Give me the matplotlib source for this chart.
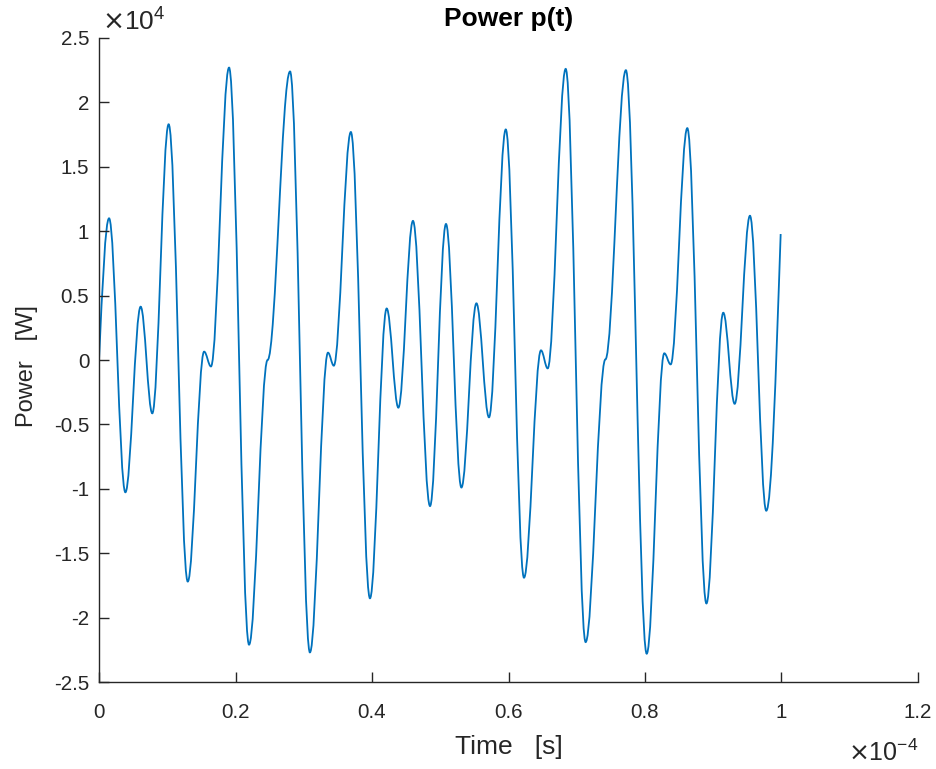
import numpy as np
import matplotlib
matplotlib.use('Agg')
import matplotlib.pyplot as plt
from matplotlib.path import Path
from matplotlib.patches import PathPatch
from matplotlib.ticker import FuncFormatter

plt.rcParams['font.family'] = ['Liberation Sans', 'DejaVu Sans']
plt.rcParams['axes.unicode_minus'] = False

# extrema / shoulder points
# time in units of 1e-4 s, power in units of 1e4 W
t_pts = [0.000, 0.0147, 0.0386, 0.061, 0.078, 0.102, 0.130, 0.154, 0.164, 0.1905,
         0.2198, 0.247, 0.2799, 0.309, 0.3355, 0.344, 0.369, 0.397, 0.4215, 0.4386,
         0.460, 0.485, 0.5084, 0.531, 0.553, 0.5714, 0.596, 0.6227, 0.6476, 0.6574,
         0.6838, 0.713, 0.742, 0.772, 0.8025, 0.8283, 0.8376, 0.862, 0.890, 0.9147,
         0.9314, 0.9538, 0.9777, 0.9988]
p_pts = [0.00, 1.10, -1.027, 0.414, -0.414, 1.83, -1.72, 0.065, -0.05, 2.27,
         -2.21, 0.0, 2.24, -2.27, 0.057, -0.044, 1.77, -1.85, 0.40, -0.37,
         1.08, -1.134, 1.056, -0.99, 0.44, -0.445, 1.79, -1.69, 0.075, -0.065,
         2.26, -2.19, 0.005, 2.25, -2.28, 0.052, -0.034, 1.80, -1.89, 0.367,
         -0.34, 1.12, -1.17, 0.978]

xticks = [0, 0.2, 0.4, 0.6, 0.8, 1.0, 1.2]
yticks = [-2.5, -2, -1.5, -1, -0.5, 0, 0.5, 1, 1.5, 2, 2.5]

t = np.array(t_pts) * 1e-4
p = np.array(p_pts) * 1e4

# smooth curve through the read points: flat tangents at extrema,
# sloped tangents at the two open ends
verts = [(t[0], p[0])]
codes = [Path.MOVETO]
n = len(t)
for i in range(n - 1):
    dt = t[i + 1] - t[i]
    dp = p[i + 1] - p[i]
    if i == 0:
        c1 = (t[i] + dt / 3, p[i] + 0.52 * dp)
    else:
        c1 = (t[i] + 0.3634 * dt, p[i])
    if i == n - 2:
        c2 = (t[i + 1] - dt / 3, p[i + 1] - 0.5 * dp)
    else:
        c2 = (t[i + 1] - 0.3634 * dt, p[i + 1])
    verts += [c1, c2, (t[i + 1], p[i + 1])]
    codes += [Path.CURVE4] * 3

fig = plt.figure(figsize=(9.37, 7.69), dpi=100)
ax = fig.add_axes([0.1057, 0.1131, 0.874, 0.8375])
ax.add_patch(PathPatch(Path(verts, codes), fill=False, edgecolor='#0072BD', lw=1.3))

ax.set_xlim(0, 1.2e-4)
ax.set_ylim(-2.5e4, 2.5e4)
ax.set_xticks([v * 1e-4 for v in xticks])
ax.set_yticks([v * 1e4 for v in yticks])
ax.xaxis.set_major_formatter(FuncFormatter(lambda v, pos: '%g' % round(v / 1e-4, 6)))
ax.yaxis.set_major_formatter(FuncFormatter(lambda v, pos: '%g' % round(v / 1e4, 6)))
ax.tick_params(direction='in', length=7, width=1, labelsize=14.8, colors='#262626')
ax.tick_params(axis='x', pad=15)
ax.tick_params(axis='y', pad=7)
ax.spines['top'].set_visible(False)
ax.spines['right'].set_visible(False)
for s in ['left', 'bottom']:
    ax.spines[s].set_color('#262626')
    ax.spines[s].set_linewidth(1)

ax.set_xlabel('Time   [s]', fontsize=19, color='#262626')
ax.xaxis.set_label_coords(0.5, -0.082)
ax.set_ylabel('Power   [W]', fontsize=17, color='#262626')
ax.yaxis.set_label_coords(-0.074, 0.49)
fig.text(0.5427, 0.975, 'Power p(t)', fontsize=19, fontweight='bold',
         ha='center', va='center')

ax.text(0.004, 1.004, r'$\times\mathregular{10^{4}}$', transform=ax.transAxes,
        fontsize=19, color='#262626', ha='left', va='bottom')
ax.text(1.0, -0.09, r'$\times\mathregular{10^{-4}}$', transform=ax.transAxes,
        fontsize=18, color='#262626', ha='right', va='top')

fig.savefig('out.png', dpi=100)
